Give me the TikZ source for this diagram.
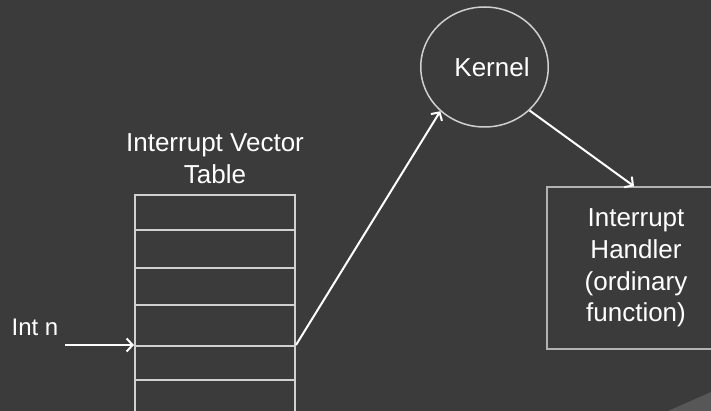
\documentclass[tikz,border=0pt]{standalone}
\usepackage{fontspec}
\setmainfont{Liberation Sans}
\usepackage{xcolor}
\usetikzlibrary{arrows.meta,shapes.geometric,positioning}

\definecolor{slide}{HTML}{3B3B3B}
\definecolor{curl}{HTML}{575757}
\definecolor{edge}{HTML}{D0D0D0}
\tikzset{
  txt/.style={text=white,font=\fontsize{26}{31.8}\selectfont,align=center},
  row/.style={draw=edge,line width=2pt,minimum width=160pt,inner sep=0pt},
  wire/.style={->,white,line width=2pt}
}

\begin{document}
\begin{tikzpicture}[x=1pt,y=-1pt,>={Straight Barb[length=6pt,width=13pt]}]
\fill[slide](0,0)rectangle(711,411);
\clip(0,0)rectangle(711,411);
\fill[curl](668,411)..controls(690,401)..(711,392)--(711,411)--cycle;
% the vector table
\foreach \i/\t/\b in {1/195/230,2/230/268,3/268/305,4/305/346,5/346/380,6/380/416}
  \node[row,minimum height={(\b-\t)*1pt}](row\i)at(215,{(\t+\b)/2}){};
\node[txt](title)at(215,159){Interrupt Vector\\Table};
\node[txt,font=\fontsize{24}{28}\selectfont](intn)at(35,327){Int n};
\coordinate(intend)at(65,345);
\node[draw=edge,line width=1.5pt,ellipse,minimum width=125pt,minimum height=120pt,inner sep=0pt,txt](kernel)at(484.5,67){\hspace*{15pt}Kernel};
\node[draw=edge!80!slide,line width=1.5pt,minimum width=178pt,minimum height=162pt,txt](handler)at(636,268){Interrupt\\Handler\\(ordinary\\function)};
\draw[wire](intend)--(row5.north west);
\draw[wire](row5.north east)--(kernel.225);
\draw[wire](kernel.-44)--([xshift=-2pt]handler.north);
\end{tikzpicture}
\end{document}
